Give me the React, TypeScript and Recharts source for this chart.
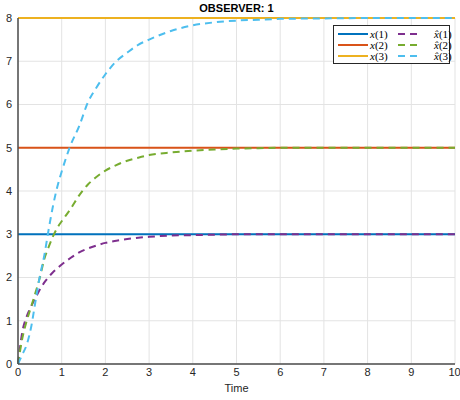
import { LineChart, Line, XAxis, YAxis, CartesianGrid } from 'recharts'

const time = [0, 0.1, 0.2, 0.3, 0.4, 0.5, 0.6, 0.7, 0.8, 0.9, 1.0, 1.2, 1.4, 1.6, 1.8, 2.0, 2.25, 2.5, 2.75, 3, 3.5, 4, 4.5, 5, 5.5, 6, 7, 8, 9, 10]
const xHat1 = [0, 0.75, 1.1, 1.33, 1.53, 1.72, 1.88, 2.01, 2.12, 2.21, 2.3, 2.45, 2.58, 2.67, 2.74, 2.8, 2.85, 2.89, 2.92, 2.94, 2.97, 2.98, 2.99, 3, 3, 3, 3, 3, 3, 3]
const xHat2 = [0, 0.6, 1.0, 1.32, 1.65, 2.0, 2.42, 2.7, 2.95, 3.15, 3.3, 3.58, 3.9, 4.15, 4.33, 4.47, 4.6, 4.7, 4.77, 4.83, 4.89, 4.93, 4.96, 4.98, 4.99, 5, 5, 5, 5, 5]
const xHat3 = [0, 0.22, 0.45, 0.85, 1.45, 2.03, 2.5, 3.1, 3.65, 4.1, 4.45, 5.05, 5.5, 6.05, 6.4, 6.7, 7.0, 7.2, 7.38, 7.5, 7.7, 7.83, 7.9, 7.94, 7.96, 7.98, 7.99, 8, 8, 8]
const xTrue = [3, 5, 8]

const xTicks = [0, 1, 2, 3, 4, 5, 6, 7, 8, 9, 10]
const yTicks = [0, 1, 2, 3, 4, 5, 6, 7, 8]

const data = time.map((t, i) => ({
  t,
  x1: xTrue[0],
  x2: xTrue[1],
  x3: xTrue[2],
  h1: xHat1[i],
  h2: xHat2[i],
  h3: xHat3[i],
}))

const solid = [
  { key: 'x1', color: '#0072BD', n: '1' },
  { key: 'x2', color: '#D95319', n: '2' },
  { key: 'x3', color: '#EDB120', n: '3' },
]
const dashed = [
  { key: 'h1', color: '#7E2F8E', n: '1' },
  { key: 'h2', color: '#77AC30', n: '2' },
  { key: 'h3', color: '#4DBEEE', n: '3' },
]

const font = '"Liberation Sans", Arial, sans-serif'
const tickStyle = { fontSize: 11, fill: '#262626', fontFamily: font }
const axisColor = '#4d4d4d'

function LegendBox() {
  const label = (n: string, hat: boolean) => (
    <span style={{ fontFamily: '"Liberation Serif", "DejaVu Serif", serif', fontSize: 11, color: '#000' }}>
      <i>{hat ? 'x\u0302' : 'x'}</i>({n})
    </span>
  )
  return (
    <div
      style={{
        position: 'absolute',
        left: 333,
        top: 25,
        border: '1px solid #262626',
        background: '#fff',
        width: 117,
        height: 39,
        boxSizing: 'border-box',
        padding: '2px 4px',
        display: 'grid',
        gridTemplateColumns: '30px 26px 24px 30px',
        gridAutoRows: '11px',
        alignItems: 'center',
        columnGap: 2,
        lineHeight: '11px',
      }}
    >
      {solid.map((s, i) => [
        <svg key={'a' + i} width={30} height={4}>
          <line x1={0} y1={2} x2={30} y2={2} stroke={s.color} strokeWidth={2} />
        </svg>,
        <div key={'b' + i}>{label(s.n, false)}</div>,
        <svg key={'c' + i} width={24} height={4}>
          <line x1={0} y1={2} x2={24} y2={2} stroke={dashed[i].color} strokeWidth={2} strokeDasharray="7 5" />
        </svg>,
        <div key={'d' + i} style={{ paddingLeft: 10 }}>{label(dashed[i].n, true)}</div>,
      ])}
    </div>
  )
}

export default function App() {
  return (
    <div style={{ position: 'absolute', left: 0, top: 0, width: 460, height: 400, background: '#fff' }}>
      <LineChart width={460} height={400} data={data} margin={{ top: 18, right: 5, left: 0, bottom: 0 }}>
        <CartesianGrid stroke="#e3e3e3" strokeWidth={1} />
        <XAxis
          dataKey="t"
          type="number"
          domain={[0, 10]}
          ticks={xTicks}
          height={36}
          tickLine={false}
          tickSize={3}
          tickMargin={1}
          axisLine={{ stroke: axisColor, strokeWidth: 1.5 }}
          tick={tickStyle}
          label={{ value: 'Time', position: 'insideBottom', offset: 8, style: { fontSize: 11, fill: '#262626', fontFamily: font } }}
        />
        <XAxis
          xAxisId="top"
          orientation="top"
          dataKey="t"
          type="number"
          domain={[0, 10]}
          ticks={xTicks}
          height={0}
          tick={false}
          tickLine={false}
          axisLine={{ stroke: axisColor }}
        />
        <YAxis
          type="number"
          domain={[0, 8]}
          ticks={yTicks}
          width={18}
          tickLine={false}
          tickSize={3}
          tickMargin={3}
          axisLine={{ stroke: axisColor, strokeWidth: 1.5 }}
          tick={tickStyle}
        />
        <YAxis
          yAxisId="right"
          orientation="right"
          type="number"
          domain={[0, 8]}
          width={0}
          tick={false}
          tickLine={false}
          axisLine={{ stroke: axisColor }}
        />
        {solid.map((s) => (
          <Line key={s.key} dataKey={s.key} stroke={s.color} strokeWidth={2} dot={false} isAnimationActive={false} />
        ))}
        {dashed.map((s) => (
          <Line
            key={s.key}
            type="monotone"
            dataKey={s.key}
            stroke={s.color}
            strokeWidth={2}
            strokeDasharray="7 5"
            dot={false}
            isAnimationActive={false}
          />
        ))}
      </LineChart>
      <div
        style={{
          position: 'absolute',
          left: 18,
          width: 437,
          top: 2,
          textAlign: 'center',
          fontFamily: font,
          fontSize: 11,
          fontWeight: 'bold',
          color: '#000',
          lineHeight: '13px',
        }}
      >
        OBSERVER: 1
      </div>
      <LegendBox />
    </div>
  )
}
